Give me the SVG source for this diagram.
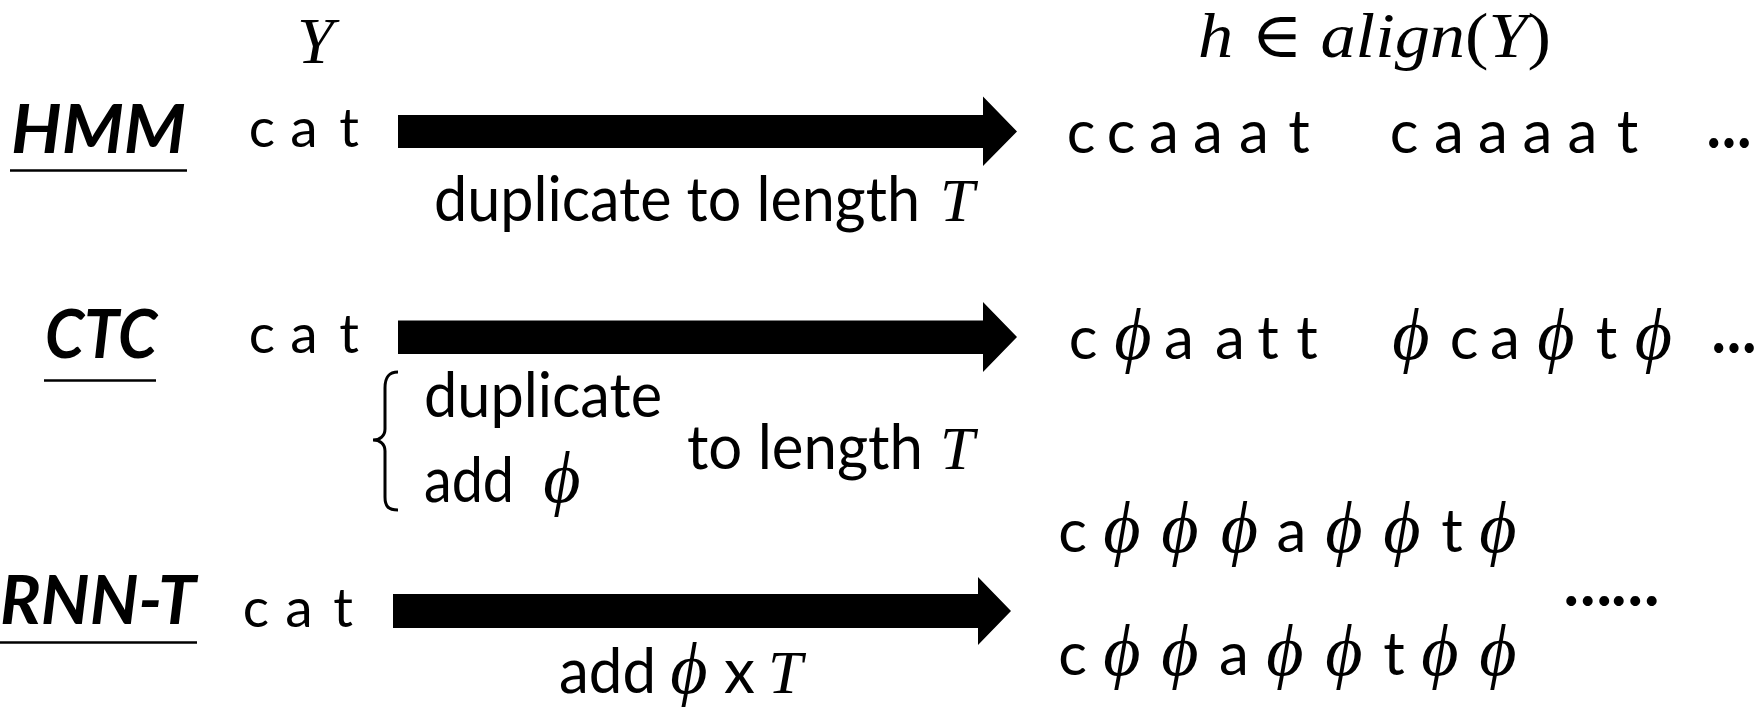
<svg xmlns="http://www.w3.org/2000/svg" width="1758" height="707" viewBox="0 0 1758 707">
<style>
.s{font-family:Lato,"Liberation Sans",sans-serif;fill:#000}
.lab{font-family:Lato,"Liberation Sans",sans-serif;font-weight:bold;font-style:italic;font-size:66px}
.m{font-family:"Liberation Serif","DejaVu Serif",serif;font-style:italic;fill:#000}
.r{font-family:"Liberation Serif","DejaVu Serif",serif;font-style:normal}
.c1{font-size:55px;text-anchor:middle}
.c2{font-size:60px;text-anchor:middle}
.ph{font-family:"Liberation Serif","DejaVu Serif",serif;font-style:italic;font-size:72px;text-anchor:middle}
.ul{stroke:#000;stroke-width:2.5}
.arr{fill:#000}
.dots{font-weight:900;font-size:62px}
.t{font-size:62px}
</style>
<g id="headers">
<text class="m" x="297" y="63" font-size="66">Y</text>
<text class="m" x="1198" y="57" font-size="64" textLength="353" lengthAdjust="spacingAndGlyphs">h <tspan class="r">∈</tspan> align<tspan class="r">(</tspan>Y<tspan class="r">)</tspan></text>
</g>
<g id="hmm">
<text class="lab" x="11" y="153" textLength="175" lengthAdjust="spacingAndGlyphs">HMM</text>
<line class="ul" x1="10" y1="170.5" x2="187" y2="170.5"/>
<text class="s c1" y="147"><tspan x="262">c</tspan><tspan x="304">a</tspan><tspan x="349">t</tspan></text>
<text class="s t" x="434" y="221" textLength="486" lengthAdjust="spacingAndGlyphs">duplicate to length</text>
<text class="m" x="940" y="221" font-size="62">T</text>
<text class="s c2" y="153"><tspan x="1081">c</tspan><tspan x="1121">c</tspan><tspan x="1164">a</tspan><tspan x="1208">a</tspan><tspan x="1254">a</tspan><tspan x="1299">t</tspan></text>
<text class="s c2" y="153"><tspan x="1404">c</tspan><tspan x="1449">a</tspan><tspan x="1493">a</tspan><tspan x="1537.5">a</tspan><tspan x="1582.5">a</tspan><tspan x="1627.5">t</tspan></text>
<text class="s dots" x="1707" y="148" textLength="44" lengthAdjust="spacingAndGlyphs">…</text>
</g>
<g id="ctc">
<text class="lab" x="45" y="358" textLength="112" lengthAdjust="spacingAndGlyphs">CTC</text>
<line class="ul" x1="44" y1="380.5" x2="156" y2="380.5"/>
<text class="s c1" y="353"><tspan x="262">c</tspan><tspan x="304">a</tspan><tspan x="349">t</tspan></text>
<path d="M398 372 C388 372 385 378 385 388 L385 429 C385 436 380 440 373 440 C380 440 385 444 385 451 L385 497 C385 506 388 510 398 510" fill="none" stroke="#000" stroke-width="3"/>
<text class="s t" x="424" y="417" textLength="238" lengthAdjust="spacingAndGlyphs">duplicate</text>
<text class="s t" x="424" y="502" textLength="90" lengthAdjust="spacingAndGlyphs">add</text>
<text class="ph" x="562" y="502">ϕ</text>
<text class="s t" x="687" y="469" textLength="236" lengthAdjust="spacingAndGlyphs">to length</text>
<text class="m" x="940" y="469" font-size="62">T</text>
<text class="s c2" y="359"><tspan x="1083">c</tspan><tspan x="1179">a</tspan><tspan x="1230">a</tspan><tspan x="1268">t</tspan><tspan x="1307">t</tspan></text>
<text class="ph" y="359"><tspan x="1133">ϕ</tspan></text>
<text class="s c2" y="359"><tspan x="1464">c</tspan><tspan x="1505">a</tspan><tspan x="1606.5">t</tspan></text>
<text class="ph" y="359"><tspan x="1411">ϕ</tspan><tspan x="1556">ϕ</tspan><tspan x="1653.5">ϕ</tspan></text>
<text class="s dots" x="1712" y="353" textLength="44" lengthAdjust="spacingAndGlyphs">…</text>
</g>
<g id="rnnt">
<text class="lab" x="0" y="624" textLength="196" lengthAdjust="spacingAndGlyphs">RNN-T</text>
<line class="ul" x1="0" y1="642.5" x2="197" y2="642.5"/>
<text class="s c1" y="627"><tspan x="256">c</tspan><tspan x="299">a</tspan><tspan x="343">t</tspan></text>
<text class="s t" x="559" y="693" textLength="97" lengthAdjust="spacingAndGlyphs">add</text>
<text class="ph" x="689" y="693">ϕ</text>
<text class="s t" x="724" y="693">x</text>
<text class="m" x="768" y="693" font-size="62">T</text>
<text class="s c2" y="551.6"><tspan x="1072.5">c</tspan><tspan x="1291.5">a</tspan><tspan x="1452">t</tspan></text>
<text class="ph" y="551.6"><tspan x="1122">ϕ</tspan><tspan x="1180">ϕ</tspan><tspan x="1239.5">ϕ</tspan><tspan x="1344">ϕ</tspan><tspan x="1402">ϕ</tspan><tspan x="1498">ϕ</tspan></text>
<text class="s c2" y="675"><tspan x="1072.5">c</tspan><tspan x="1234">a</tspan><tspan x="1394">t</tspan></text>
<text class="ph" y="675"><tspan x="1122">ϕ</tspan><tspan x="1180">ϕ</tspan><tspan x="1285">ϕ</tspan><tspan x="1344">ϕ</tspan><tspan x="1440">ϕ</tspan><tspan x="1498">ϕ</tspan></text>
<text class="s dots" x="1564" y="606" textLength="95" lengthAdjust="spacingAndGlyphs">……</text>
</g>
<g id="connectors">
<path class="arr" d="M398 115 H983 V96.5 L1017 131.5 L983 166 V148 H398 Z"/>
<path class="arr" d="M398 320.5 H983 V302 L1017 337 L983 372 V354 H398 Z"/>
<path class="arr" d="M393 594 H978 V577 L1011 611 L978 645 V628 H393 Z"/>
</g>
</svg>
